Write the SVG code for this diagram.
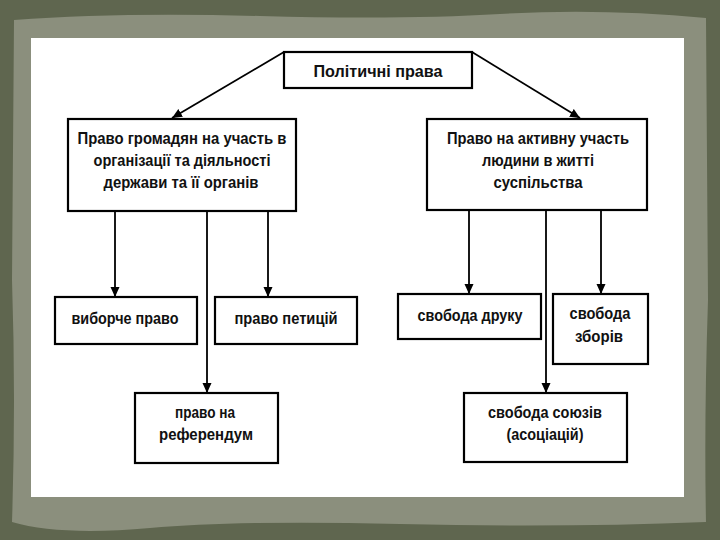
<svg xmlns="http://www.w3.org/2000/svg" width="720" height="540" viewBox="0 0 720 540">
<style>
.box{fill:#fff;stroke:#000;stroke-width:2.2}
.t{font-family:"Liberation Sans",Arial,sans-serif;font-size:16px;font-weight:bold;fill:#111;text-anchor:middle}
.c{stroke:#000;stroke-width:1.8;fill:none}
</style>
<defs>
<marker id="a" viewBox="0 0 10 10" refX="10" refY="5" markerWidth="10" markerHeight="10" orient="auto" markerUnits="userSpaceOnUse">
<path d="M0,0.5 L10,5 L0,9.5 z" fill="#000"/>
</marker>
</defs>
<rect x="0" y="0" width="720" height="540" fill="#5f664f"/>
<path d="M14,20 Q120,12 260,16 T500,14 T706,18 L708,300 Q704,420 706,522 Q560,528 400,524 T150,528 T12,522 Q16,400 12,280 Z" fill="#8b8f7d"/>
<rect x="31" y="38" width="653" height="459" fill="#fff"/>
<g id="connectors">
<line class="c" x1="284" y1="52" x2="172" y2="118" marker-end="url(#a)"/>
<line class="c" x1="472" y1="52" x2="580" y2="118" marker-end="url(#a)"/>
<line class="c" x1="115" y1="212" x2="115" y2="297" marker-end="url(#a)"/>
<line class="c" x1="207" y1="212" x2="207" y2="393" marker-end="url(#a)"/>
<line class="c" x1="268" y1="212" x2="268" y2="297" marker-end="url(#a)"/>
<line class="c" x1="469" y1="211" x2="469" y2="294" marker-end="url(#a)"/>
<line class="c" x1="546" y1="211" x2="546" y2="393" marker-end="url(#a)"/>
<line class="c" x1="601" y1="211" x2="601" y2="294" marker-end="url(#a)"/>
</g>
<g id="root">
<rect class="box" x="284" y="52" width="188" height="36"/>
<text class="t" x="378" y="77" textLength="129" lengthAdjust="spacingAndGlyphs">Політичні права</text>
</g>
<g id="left">
<rect class="box" x="68" y="119" width="228" height="92"/>
<text class="t" x="182" y="144" textLength="209" lengthAdjust="spacingAndGlyphs">Право громадян на участь в</text>
<text class="t" x="182" y="166" textLength="177" lengthAdjust="spacingAndGlyphs">організації та діяльності</text>
<text class="t" x="181" y="188" textLength="155" lengthAdjust="spacingAndGlyphs">держави та її органів</text>
</g>
<g id="right">
<rect class="box" x="427" y="119" width="220" height="91"/>
<text class="t" x="538" y="144" textLength="182" lengthAdjust="spacingAndGlyphs">Право на активну участь</text>
<text class="t" x="538" y="166" textLength="112" lengthAdjust="spacingAndGlyphs">людини в житті</text>
<text class="t" x="538" y="188" textLength="89" lengthAdjust="spacingAndGlyphs">суспільства</text>
</g>
<g id="vyborche">
<rect class="box" x="55" y="297" width="142" height="47"/>
<text class="t" x="125" y="324" textLength="107" lengthAdjust="spacingAndGlyphs">виборче право</text>
</g>
<g id="petytsii">
<rect class="box" x="215" y="297" width="142" height="47"/>
<text class="t" x="286" y="324" textLength="103" lengthAdjust="spacingAndGlyphs">право петицій</text>
</g>
<g id="referendum">
<rect class="box" x="135" y="393" width="143" height="70"/>
<text class="t" x="205" y="418" textLength="60" lengthAdjust="spacingAndGlyphs">право на</text>
<text class="t" x="206" y="440" textLength="94" lengthAdjust="spacingAndGlyphs">референдум</text>
</g>
<g id="druku">
<rect class="box" x="398" y="294" width="143" height="45"/>
<text class="t" x="470" y="321" textLength="105" lengthAdjust="spacingAndGlyphs">свобода друку</text>
</g>
<g id="zboriv">
<rect class="box" x="553" y="294" width="95" height="70"/>
<text class="t" x="600" y="319" textLength="61" lengthAdjust="spacingAndGlyphs">свобода</text>
<text class="t" x="599" y="342" textLength="48" lengthAdjust="spacingAndGlyphs">зборів</text>
</g>
<g id="soiuziv">
<rect class="box" x="464" y="393" width="163" height="69"/>
<text class="t" x="545" y="418" textLength="114" lengthAdjust="spacingAndGlyphs">свобода союзів</text>
<text class="t" x="545" y="440" textLength="77" lengthAdjust="spacingAndGlyphs">(асоціацій)</text>
</g>
</svg>
